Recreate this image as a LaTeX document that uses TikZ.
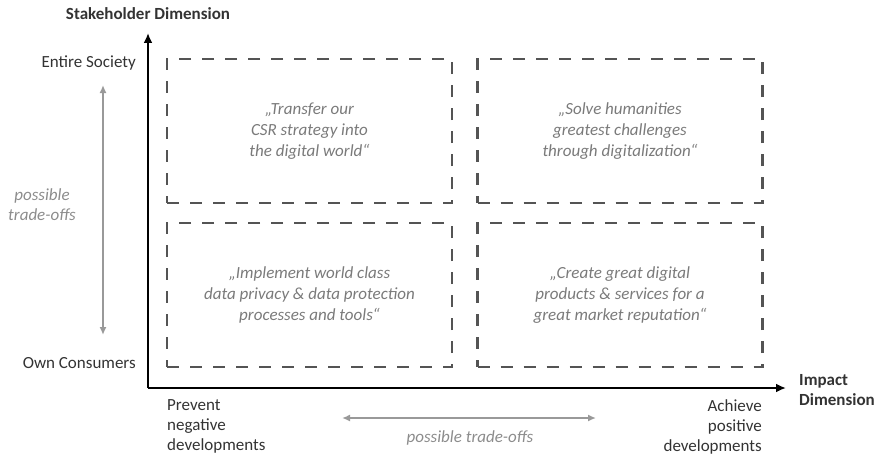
\documentclass[tikz,border=0pt]{standalone}
\usepackage{fontspec}
\setmainfont{Carlito}
\usetikzlibrary{arrows.meta}

\tikzset{
  quadrant/.style={draw=black!67, line width=2.4pt, dash pattern=on 12pt off 11pt,
    minimum width=285pt, minimum height=144pt, align=center,
    text=black!52, font=\fontsize{17}{21}\selectfont\itshape},
  axis/.style={line width=2.4pt, -{Latex[length=10pt,width=9pt]}},
  tradeoff/.style={draw=black!40, line width=1.6pt, {Latex[length=8pt,width=7pt]}-{Latex[length=8pt,width=7pt]}},
  lbl/.style={text=black!80, font=\fontsize{17}{20}\selectfont, inner sep=0pt}
}

\begin{document}
\begin{tikzpicture}[x=1pt, y=1pt]
\useasboundingbox (0, 0) rectangle (880, 459);

\coordinate (o) at (148, 71);
\coordinate (ytip) at (148, 426);
\coordinate (xtip) at (786, 71);
\draw [axis] (o) -- (ytip);
\draw [axis] (o) -- (xtip);

\node [quadrant] (tl) at (309.5, 328) {„Transfer our\\CSR strategy into\\the digital world“};
\node [quadrant] (tr) at (620, 328) {„Solve humanities\\greatest challenges\\through digitalization“};
\node [quadrant] (bl) at (309.5, 164) {„Implement world class\\data privacy \& data protection\\processes and tools“};
\node [quadrant] (br) at (620, 164) {„Create great digital\\products \& services for a\\great market reputation“};

\node [lbl, font=\fontsize{17}{20}\selectfont\bfseries] (stake) at (148, 445) {Stakeholder Dimension};
\node [lbl, anchor=east] (society) at (136, 396) {Entire Society};
\node [lbl, anchor=east] (consumers) at (136, 96) {Own Consumers};
\node [lbl, anchor=west, align=left, font=\fontsize{17}{20}\selectfont\bfseries] (impact) at (799, 69) {Impact\\Dimension};
\node [lbl, anchor=north west, align=left] (prevent) at (167, 60) {Prevent\\negative\\developments};
\node [lbl, anchor=north east, align=right] (achieve) at (762, 60) {Achieve\\positive\\developments};

\coordinate (vtop) at (103, 374);
\coordinate (vbot) at (103, 124);
\draw [tradeoff] (vtop) -- (vbot);
\node [lbl, text=black!45, align=center, font=\fontsize{17}{20}\selectfont\itshape] (vtrade) at (42, 254) {possible\\trade-offs};

\coordinate (hleft) at (342, 41);
\coordinate (hright) at (596, 41);
\draw [tradeoff] (hleft) -- (hright);
\node [lbl, text=black!45, font=\fontsize{17}{20}\selectfont\itshape] (htrade) at (470, 21) {possible trade-offs};
\end{tikzpicture}
\end{document}
